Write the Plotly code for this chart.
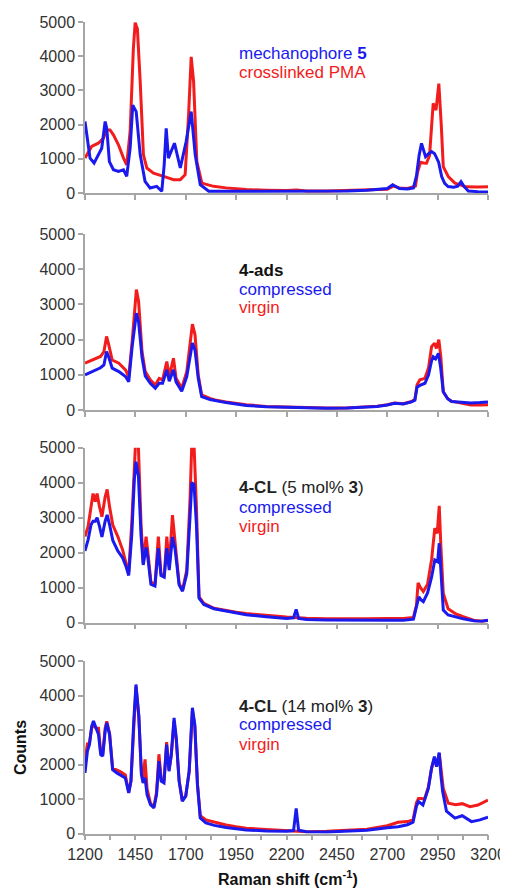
import plotly.graph_objects as go

# ---------------- data (wavenumber cm-1, counts) ----------------
wn_ticks = [1200, 1450, 1700, 1950, 2200, 2450, 2700, 2950, 3200]
count_ticks = [0, 1000, 2000, 3000, 4000, 5000]

p1_pma = [(1200,1020),(1233,1360),(1266,1456),(1291,1600),(1308,1845),(1324,1845),(1341,1700),(1366,1410),
          (1391,1020),(1407,825),(1424,1800),(1440,4220),(1449,4980),(1460,4800),(1474,3250),(1490,1117),
          (1507,730),(1540,580),(1590,485),(1640,390),(1673,390),(1697,535),(1714,2280),(1727,3980),(1739,3250),
          (1755,920),(1780,290),(1838,195),(1900,150),(1950,120),(2000,100),(2100,80),(2200,70),(2250,90),
          (2300,60),(2400,60),(2500,70),(2600,80),(2650,90),(2700,110),(2730,200),(2760,150),(2800,130),
          (2840,200),(2850,600),(2865,900),(2880,880),(2895,870),(2910,1100),(2928,2620),(2942,2425),
          (2956,3200),(2968,2000),(2978,770),(3003,480),(3036,290),(3066,230),(3086,180),(3150,175),(3200,180)]
p1_mech5 = [(1200,2090),(1212,1505),(1225,1020),(1245,875),(1266,1117),(1283,1310),(1300,2090),(1308,1890),
            (1321,920),(1341,680),(1366,630),(1391,680),(1407,485),(1424,1310),(1437,2570),(1454,2380),
            (1474,1117),(1498,340),(1523,145),(1556,195),(1581,50),(1593,825),(1603,1890),(1614,1020),
            (1644,1456),(1673,730),(1702,1505),(1727,2380),(1747,1117),(1772,243),(1814,50),(1850,50),
            (1900,60),(2000,40),(2100,60),(2200,40),(2300,50),(2400,40),(2500,60),(2600,80),(2650,100),
            (2700,130),(2727,240),(2760,130),(2800,120),(2830,150),(2845,500),(2858,1100),(2870,1450),
            (2880,1250),(2890,1060),(2905,1150),(2920,1210),(2935,1150),(2955,900),(2970,480),(2985,280),
            (3002,190),(3030,170),(3050,200),(3066,330),(3080,200),(3102,60),(3150,40),(3200,30)]

p2_virgin = [(1200,1330),(1236,1420),(1277,1520),(1294,1660),(1307,2090),(1318,1850),(1335,1420),(1368,1330),
             (1401,1140),(1417,950),(1434,1945),(1455,3420),(1466,3085),(1483,1660),(1499,1090),(1524,855),
             (1549,710),(1568,900),(1585,855),(1606,1375),(1618,950),(1639,1470),(1652,900),(1680,617),
             (1705,1090),(1733,2440),(1746,2135),(1762,996),(1779,427),(1820,332),(1845,285),(1900,230),
             (1950,190),(2000,150),(2100,100),(2200,80),(2300,60),(2400,55),(2500,60),(2600,80),(2650,110),
             (2700,150),(2737,200),(2780,180),(2820,240),(2837,300),(2848,720),(2862,860),(2887,900),
             (2905,1200),(2920,1800),(2935,1900),(2944,1750),(2956,2000),(2966,1500),(2978,520),(3000,320),
             (3019,250),(3060,200),(3115,140),(3160,140),(3200,150)]
p2_compressed = [(1200,1000),(1236,1090),(1277,1200),(1294,1280),(1307,1660),(1318,1500),(1335,1190),
                 (1368,1090),(1401,950),(1417,800),(1434,1800),(1455,2750),(1466,2500),(1483,1500),(1499,970),
                 (1524,760),(1549,620),(1568,760),(1585,760),(1606,1140),(1618,820),(1639,1140),(1652,800),
                 (1680,530),(1705,950),(1733,1900),(1746,1700),(1762,900),(1779,380),(1820,300),(1845,270),
                 (1900,210),(1950,170),(2000,130),(2100,90),(2200,70),(2300,50),(2400,50),(2500,55),(2600,75),
                 (2650,100),(2700,140),(2737,190),(2780,170),(2820,230),(2837,280),(2848,650),(2862,700),
                 (2887,760),(2905,1000),(2920,1400),(2928,1510),(2940,1450),(2954,1610),(2965,1200),(2978,520),
                 (3000,320),(3019,240),(3060,220),(3115,200),(3160,210),(3200,230)]

p3_virgin = [(1200,2460),(1215,2740),(1230,3310),(1240,3690),(1251,3460),(1260,3690),(1272,3310),(1284,3030),
             (1300,3600),(1310,3810),(1322,3310),(1338,2790),(1363,2460),(1387,2075),(1404,1695),(1417,1456),
             (1432,2840),(1445,5030),(1453,5400),(1465,5030),(1478,2840),(1489,1695),(1503,2460),(1511,2075),
             (1527,1170),(1547,1075),(1564,2460),(1577,1410),(1593,1310),(1606,2460),(1618,1600),(1634,3075),
             (1647,2360),(1667,1125),(1684,930),(1705,1505),(1721,3500),(1730,5100),(1741,5100),(1753,3310),
             (1766,740),(1790,550),(1840,410),(1900,340),(1950,300),(2000,260),(2100,200),(2200,160),
             (2240,150),(2260,140),(2300,130),(2400,110),(2500,100),(2600,110),(2700,120),(2780,120),
             (2830,150),(2845,500),(2853,1140),(2865,1000),(2879,890),(2900,1100),(2920,1800),(2936,2700),
             (2948,2550),(2958,3340),(2966,2200),(2978,840),(3002,400),(3040,250),(3077,170),(3135,60),
             (3170,40),(3200,60)]
p3_compressed = [(1200,2050),(1215,2360),(1230,2800),(1240,2900),(1251,2900),(1260,3000),(1272,2750),
                 (1284,2450),(1300,2900),(1310,3080),(1322,2800),(1338,2350),(1363,2050),(1387,1850),
                 (1404,1600),(1417,1350),(1432,2500),(1445,4100),(1453,4600),(1465,4200),(1478,2500),
                 (1489,1650),(1503,2150),(1511,1900),(1527,1100),(1547,1050),(1564,2130),(1577,1350),
                 (1593,1300),(1606,2130),(1618,1500),(1634,2450),(1647,2100),(1667,1080),(1684,900),
                 (1705,1400),(1721,3000),(1730,4000),(1741,3950),(1753,2800),(1766,700),(1790,520),(1840,400),
                 (1900,330),(1950,280),(2000,230),(2100,170),(2200,120),(2235,140),(2248,380),(2260,120),
                 (2300,90),(2400,80),(2500,70),(2600,75),(2700,70),(2780,70),(2830,100),(2845,460),(2857,740),
                 (2868,650),(2879,600),(2900,850),(2920,1300),(2936,1790),(2950,1740),(2958,2270),(2966,1600),
                 (2978,360),(3002,220),(3036,170),(3077,110),(3135,50),(3170,40),(3200,70)]

p4_virgin = [(1200,2100),(1212,2600),(1222,2620),(1233,3050),(1242,3150),(1255,3050),(1267,3050),(1278,2350),
             (1288,2300),(1300,3050),(1308,3250),(1322,2900),(1337,1900),(1358,1850),(1375,1800),(1400,1700),
             (1417,1200),(1428,1520),(1442,3200),(1453,4250),(1467,3400),(1480,1750),(1488,1600),(1498,2150),
             (1508,1300),(1525,880),(1542,780),(1555,1200),(1567,2300),(1578,1600),(1592,1520),(1605,2650),
             (1617,1850),(1628,2250),(1642,3250),(1653,2700),(1667,1550),(1683,960),(1700,1100),(1717,1800),
             (1733,3550),(1745,3100),(1758,1450),(1772,520),(1800,400),(1842,330),(1900,250),(1950,200),
             (2000,160),(2100,120),(2200,90),(2248,60),(2300,60),(2400,70),(2500,90),(2600,130),(2700,230),
             (2754,330),(2800,350),(2828,400),(2845,900),(2855,1020),(2870,1020),(2885,1000),(2904,1350),
             (2920,1900),(2934,2180),(2945,1950),(2958,2330),(2968,1800),(2978,1310),(3003,880),(3040,840),
             (3072,870),(3110,780),(3150,830),(3200,975)]
p4_compressed = [(1200,1760),(1212,2390),(1222,2580),(1233,3110),(1242,3260),(1255,3065),(1267,2870),
                 (1278,2290),(1288,2245),(1300,2970),(1308,3210),(1322,2870),(1337,1855),(1358,1760),
                 (1375,1710),(1400,1615),(1417,1180),(1428,1520),(1442,3260),(1453,4320),(1467,3420),
                 (1480,1710),(1488,1470),(1498,1615),(1508,1130),(1525,840),(1542,745),(1555,1130),(1567,2100),
                 (1578,1520),(1592,1470),(1605,2580),(1617,1810),(1628,2290),(1642,3355),(1653,2775),(1667,1520),
                 (1683,940),(1700,1085),(1717,1810),(1733,3645),(1745,3160),(1758,1420),(1772,455),(1800,310),
                 (1842,240),(1900,180),(1950,140),(2000,110),(2100,80),(2200,70),(2235,90),(2248,730),(2260,100),
                 (2300,60),(2400,50),(2500,70),(2600,100),(2700,170),(2754,200),(2800,260),(2828,330),(2845,800),
                 (2855,930),(2877,830),(2904,1310),(2920,1900),(2934,2230),(2945,1940),(2958,2350),(2966,1700),
                 (2975,1220),(2994,650),(3036,450),(3072,520),(3118,350),(3160,400),(3200,480)]

panels = [
    (p1_pma, p1_mech5),
    (p2_virgin, p2_compressed),
    (p3_virgin, p3_compressed),
    (p4_virgin, p4_compressed),
]

# ---------------- figure ----------------
# The page body has an 8 px margin, so the figure is 8 px smaller than the
# window and all reference-pixel positions are shifted by that offset.
OFF = 8
W, H = 508 - OFF, 888 - OFF
RED = "#f21c1c"
BLUE = "#1a1aee"
AXC = "#a6a6a6"
TXT = "#333333"
FONT = "Liberation Sans, Arial, sans-serif"

def px_x(p):
    return (p - OFF) / W

def px_y(p):
    return 1 - (p - OFF) / H

x_dom = [px_x(85), px_x(488)]
y_doms = [(193, 22), (410, 234), (622.7, 447.7), (833.7, 661)]

fig = go.Figure()
for i, (red, blue) in enumerate(panels):
    suffix = "" if i == 0 else str(i + 1)
    for data, col in ((red, RED), (blue, BLUE)):
        xs, ys = zip(*data)
        fig.add_trace(go.Scatter(x=list(xs), y=list(ys), mode="lines",
                                 line=dict(color=col, width=3),
                                 xaxis="x" + suffix, yaxis="y" + suffix,
                                 showlegend=False, hoverinfo="skip"))
    bottom, top = y_doms[i]
    last = i == len(panels) - 1
    xa = dict(domain=x_dom, range=[1200, 3200], anchor="y" + suffix, automargin=False,
              showline=True, linecolor=AXC, linewidth=1.5, showgrid=False, zeroline=False,
              tickmode="array", tickvals=wn_ticks, ticktext=[str(t) for t in wn_ticks],
              ticks="outside", ticklen=5, tickcolor=AXC, tickwidth=1.5,
              showticklabels=last, tickfont=dict(size=16, color=TXT, family=FONT))
    if last:
        xa.update(minor=dict(tickvals=[t + 125 for t in wn_ticks[:-1]], ticks="outside",
                             ticklen=5, tickcolor=AXC, tickwidth=1.5))
    ya = dict(domain=[px_y(bottom), px_y(top)], range=[0, 5000], anchor="x" + suffix, automargin=False,
              showline=True, linecolor=AXC, linewidth=1.5, showgrid=False, zeroline=False,
              tickmode="array", tickvals=count_ticks, ticks="outside", ticklen=5,
              tickcolor=AXC, tickwidth=1.5, tickfont=dict(size=16, color=TXT, family=FONT))
    fig.layout["xaxis" + suffix] = xa
    fig.layout["yaxis" + suffix] = ya

labels = [
    [("mechanophore <b>5</b>", BLUE, 54), ("crosslinked PMA", RED, 72)],
    [("<b>4-ads</b>", "#111111", 270), ("compressed", BLUE, 289), ("virgin", RED, 308)],
    [("<b>4-CL</b> (5 mol% <b>3</b>)", "#222222", 487.5), ("compressed", BLUE, 507), ("virgin", RED, 526)],
    [("<b>4-CL</b> (14 mol% <b>3</b>)", "#222222", 706), ("compressed", BLUE, 724), ("virgin", RED, 744)],
]
for group in labels:
    for text, col, ypix in group:
        fig.add_annotation(text=text, x=px_x(237), y=px_y(ypix), xref="paper", yref="paper",
                           xanchor="left", yanchor="middle", showarrow=False,
                           font=dict(size=17, color=col, family=FONT))

fig.add_annotation(text="<b>Raman shift (cm<sup>-1</sup>)</b>", x=px_x(288), y=px_y(878),
                   xref="paper", yref="paper", xanchor="center", yanchor="middle", showarrow=False,
                   font=dict(size=16, color="#111111", family=FONT))
fig.add_annotation(text="<b>Counts</b>", x=px_x(20), y=px_y(748), textangle=-90,
                   xref="paper", yref="paper", xanchor="center", yanchor="middle", showarrow=False,
                   font=dict(size=16, color="#111111", family=FONT))

fig.update_layout(width=W, height=H, margin=dict(l=0, r=0, t=0, b=0),
                  paper_bgcolor="white", plot_bgcolor="white",
                  font=dict(family=FONT, size=16, color=TXT))

fig.write_html("out.html")
